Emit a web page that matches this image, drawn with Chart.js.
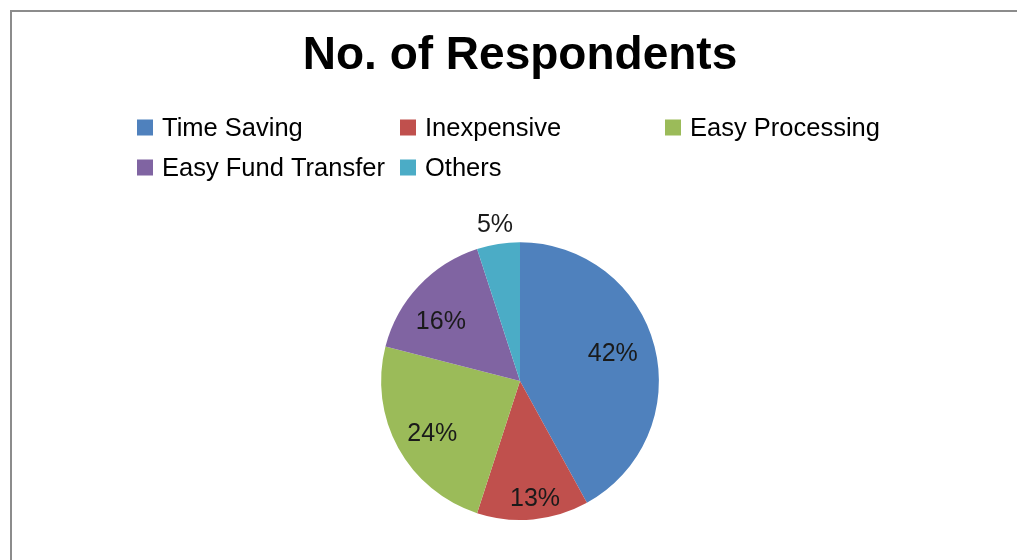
<!DOCTYPE html>
<html>
<head>
<meta charset="utf-8">
<script src="https://cdn.jsdelivr.net/npm/chart.js@4/dist/chart.umd.min.js"></script>
<style>
  html, body { margin: 0; padding: 0; background: #fff; overflow: hidden; }
  #frame {
    position: absolute; left: 10px; top: 10px;
    width: 1100px; height: 600px;
    border: 2px solid #8c8c8c; box-sizing: border-box;
  }
  #wrap { position: absolute; left: 0; top: 0; width: 1040px; height: 600px; }
</style>
</head>
<body>
<div id="frame"></div>
<div id="wrap"><canvas id="respondentsChart"></canvas></div>
<script>
// Reasons given by respondents, in percent
const reasons = ['Time Saving', 'Inexpensive', 'Easy Processing', 'Easy Fund Transfer', 'Others'];
const shares = [42, 13, 24, 16, 5];
const sliceColors = ['#4F81BD', '#C0504D', '#9BBB59', '#8064A2', '#4BACC6'];

const FONT = '"Liberation Sans", Arial, sans-serif';

// Percent labels placed near each slice's middle angle:
// [angle nudge in degrees, distance as a fraction of the radius]
const sliceLabels = {
  id: 'sliceLabels',
  afterDatasetsDraw(chart) {
    const ctx = chart.ctx;
    const meta = chart.getDatasetMeta(0);
    const spots = [[-3, 0.70], [-2, 0.84], [-1.3, 0.73], [-5.5, 0.72], [0, 1.15]];
    ctx.save();
    ctx.font = '25px ' + FONT;
    ctx.fillStyle = '#1a1a1a';
    ctx.textAlign = 'center';
    ctx.textBaseline = 'middle';
    meta.data.forEach((arc, i) => {
      const mid = (arc.startAngle + arc.endAngle) / 2 + spots[i][0] * Math.PI / 180;
      const r = arc.outerRadius * spots[i][1];
      ctx.fillText(shares[i] + '%', arc.x + Math.cos(mid) * r, arc.y + Math.sin(mid) * r + 2);
    });
    ctx.restore();
  }
};

// Legend laid out in a fixed grid of three columns
const gridLegend = {
  id: 'gridLegend',
  afterDraw(chart) {
    const ctx = chart.ctx;
    const cols = [137, 400, 665];
    const rows = [127.5, 167.5];
    ctx.save();
    ctx.font = '25.5px ' + FONT;
    ctx.textBaseline = 'middle';
    ctx.textAlign = 'left';
    reasons.forEach((name, i) => {
      const x = cols[i % 3];
      const y = rows[Math.floor(i / 3)];
      ctx.fillStyle = sliceColors[i];
      ctx.fillRect(x, y - 8, 16, 16);
      ctx.fillStyle = '#000';
      ctx.fillText(name, x + 25, y + 1);
    });
    ctx.restore();
  }
};

const ctx = document.getElementById('respondentsChart').getContext('2d');
new Chart(ctx, {
  type: 'pie',
  data: {
    labels: reasons,
    datasets: [{
      data: shares,
      backgroundColor: sliceColors,
      borderWidth: 0
    }]
  },
  options: {
    responsive: true,
    maintainAspectRatio: false,
    animation: false,
    layout: { padding: { bottom: 80 } },
    plugins: {
      legend: { display: false },
      tooltip: { enabled: false },
      title: {
        display: true,
        text: 'No. of Respondents',
        color: '#000',
        font: { family: FONT, size: 46, weight: 'bold' },
        padding: { top: 29, bottom: 158 }
      }
    }
  },
  plugins: [sliceLabels, gridLegend]
});
</script>
</body>
</html>
